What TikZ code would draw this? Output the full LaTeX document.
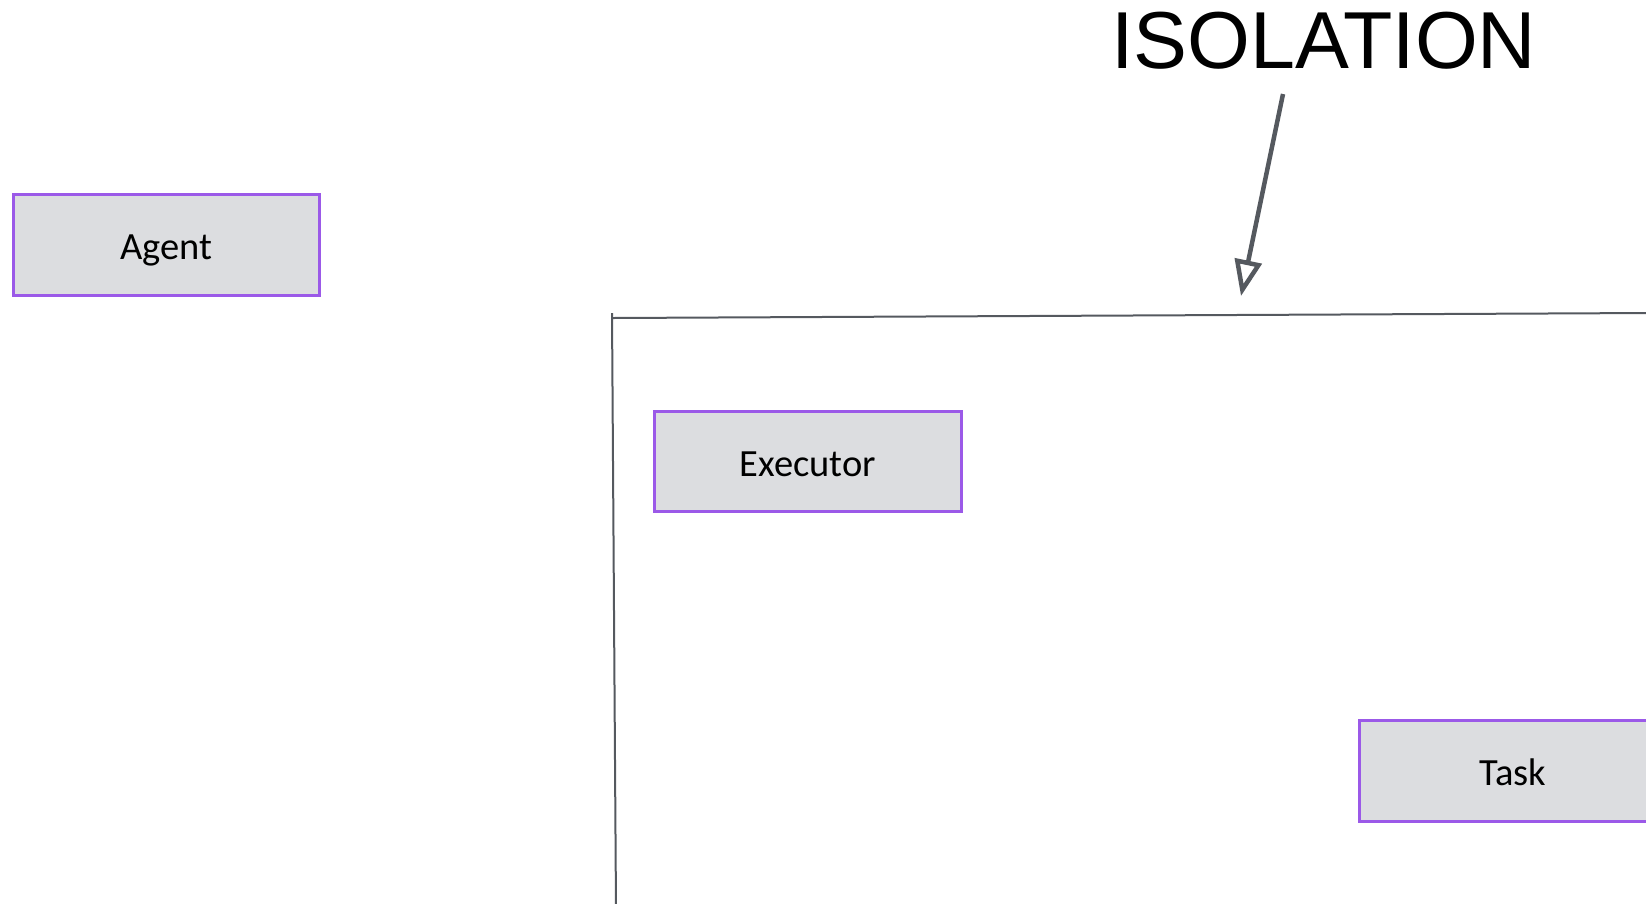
\documentclass[tikz,border=0pt]{standalone}
\usepackage{fontspec}
\setmainfont{Carlito}
\newfontfamily\headfont{Liberation Sans}
\usetikzlibrary{arrows.meta}
\definecolor{boxfill}{HTML}{DCDDE0}
\definecolor{boxedge}{HTML}{9B59E8}
\definecolor{rulegray}{HTML}{55595F}
\begin{document}
\begin{tikzpicture}[x=1pt,y=-1pt,
  block/.style={draw=boxedge, fill=boxfill, line width=3.8pt,
    minimum width=307pt, minimum height=101pt, inner sep=0pt,
    font=\fontsize{38.5}{46}\selectfont, text=black,
    text height=29pt, text depth=0pt},
  wall/.style={draw=rulegray, line width=2pt},
  pointer/.style={draw=rulegray, line width=4.5pt,
    -{Triangle[open, length=36pt, width=27pt, line width=4.5pt]}}]
\useasboundingbox (0,0) rectangle (1646,903);
\clip (0,0) rectangle (1646,903);

% components
\node[block, minimum width=306pt] (agent) at (166.5,245) {Agent};
\node[block, minimum height=100pt] (executor) at (808,461.5) {Executor};
\node[block] (task) at (1513,771) {Task};

% boundary walls
\coordinate (wallTop) at (612,313);
\coordinate (wallBottom) at (616,910);
\coordinate (roofLeft) at (613,318);
\coordinate (roofRight) at (1650,313);
\draw[wall] (wallTop) -- (wallBottom);
\draw[wall] (roofLeft) -- (roofRight);

% label and pointer
\node[anchor=base west, inner sep=0pt, text=black,
  font=\headfont\fontsize{80.8}{94}\selectfont] (label) at (1111,68) {ISOLATION};
\coordinate (pointerStart) at (1283,94);
\coordinate (pointerEnd) at (1241,296);
\draw[pointer] (pointerStart) -- (pointerEnd);
\end{tikzpicture}
\end{document}
